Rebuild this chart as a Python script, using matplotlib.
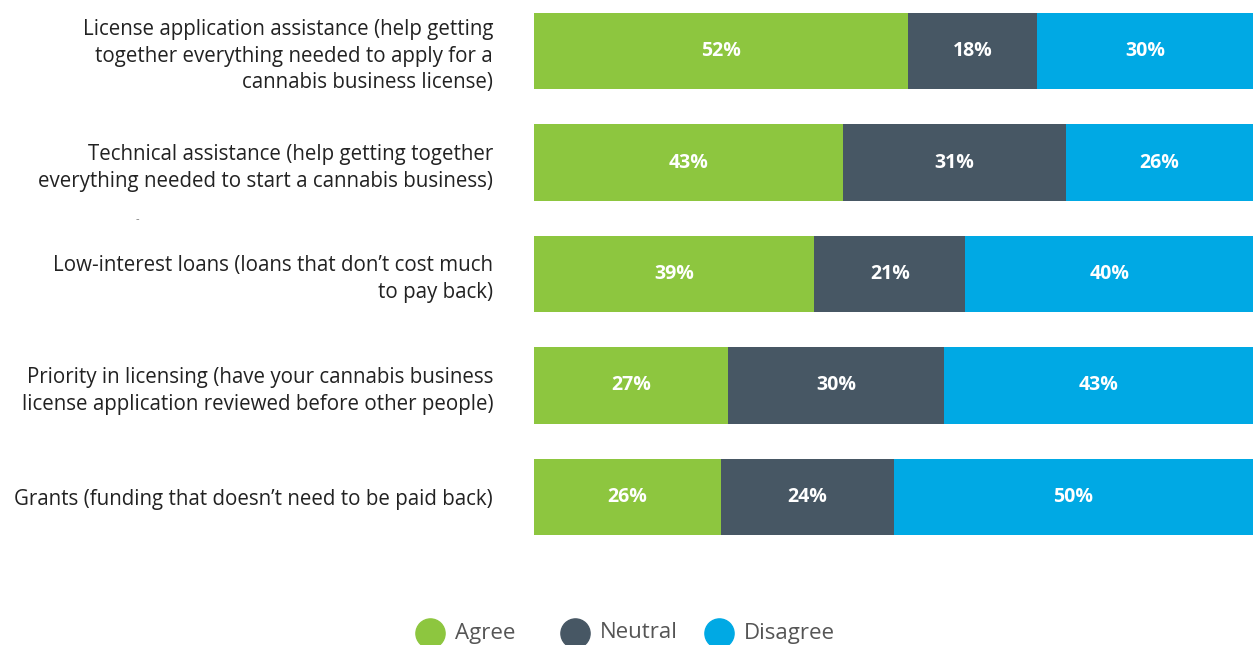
import matplotlib.pyplot as plt
from matplotlib.lines import Line2D
import numpy as np

categories = [
    "License application assistance (help getting\ntogether everything needed to apply for a\ncannabis business license)",
    "Technical assistance (help getting together\neverything needed to start a cannabis business)",
    "Low-interest loans (loans that don\u2019t cost much\nto pay back)",
    "Priority in licensing (have your cannabis business\nlicense application reviewed before other people)",
    "Grants (funding that doesn\u2019t need to be paid back)",
]
agree = [52, 43, 39, 27, 26]
neutral = [18, 31, 21, 30, 24]
disagree = [30, 26, 40, 43, 50]
series_names = ["Agree", "Neutral", "Disagree"]
colors = ["#8dc63f", "#475764", "#00a9e4"]

plt.rcParams['font.family'] = ['Open Sans', 'DejaVu Sans']

W, H = 1253, 645
fig = plt.figure(figsize=(W / 100, H / 100), dpi=100)
# axes placed in pixels: left 534, rows span from -4.75 px to 552.75 px from the top
ax = fig.add_axes([534 / W, (H - 552.75) / H, 1 - 534 / W, 557.5 / H])

y = np.arange(len(categories))
left = np.zeros(len(categories))
for vals, name, col in zip([agree, neutral, disagree], series_names, colors):
    vals = np.array(vals, dtype=float)
    ax.barh(y, vals, left=left, height=0.69, color=col, label=name)
    for yi, l, v in zip(y, left, vals):
        ax.text(l + v / 2, yi, f"{int(v)}%", ha="center", va="center",
                color="white", fontsize=14, fontweight="bold")
    left += vals

ax.set_xlim(0, 100)
ax.set_ylim(4.5, -0.5)
ax.set_yticks(y)
ax.set_yticklabels(categories, fontsize=14.8, color="#222222", linespacing=1.35)
ax.tick_params(axis="y", length=0, pad=29.5)
ax.set_xticks([])
for s in ax.spines.values():
    s.set_visible(False)

# small stray dash seen in the source
fig.text(137 / W, 1 - 220 / H, "-", fontsize=8, color="#777777",
         ha="center", va="center")

# legend, evenly spaced entries at the bottom
for i, (name, col) in enumerate(zip(series_names, colors)):
    x0 = 430 + 144.5 * i
    fig.add_artist(Line2D([x0 / W], [1 - 633 / H], marker="o", linestyle="",
                          markersize=21, markerfacecolor=col, markeredgecolor=col,
                          transform=fig.transFigure))
    fig.text((x0 + 25) / W, 1 - 633 / H, name, fontsize=16, color="#555555",
             ha="left", va="center")

fig.savefig("out.png", dpi=100)
